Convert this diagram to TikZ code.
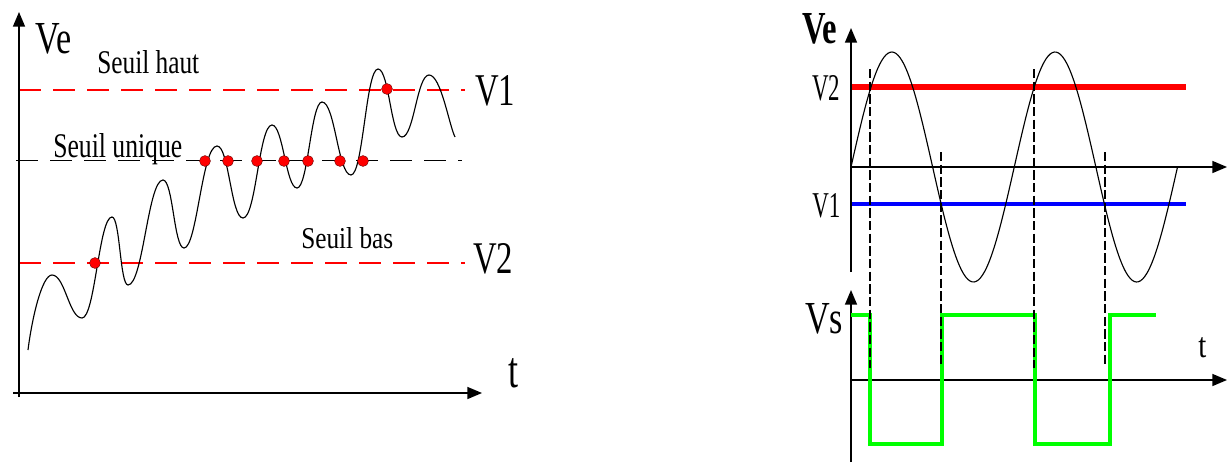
\documentclass[tikz,border=0pt]{standalone}
\usepackage{fontspec}
\setmainfont{Liberation Serif}
\usepackage{graphicx}
\usetikzlibrary{arrows.meta}
\newlength\mypx
\setlength\mypx{0.75pt}
\newcommand\fitlbl[3]{\resizebox{#1\mypx}{#2\mypx}{#3}}
\begin{document}
\begin{tikzpicture}[x=0.75pt,y=-0.75pt,
  axis/.style={line width=1.1pt,-{Triangle[length=11pt,width=9pt]}},
  reddash/.style={red,line width=1pt,dash pattern=on 16.5pt off 9pt},
  blkdash/.style={black,line width=0.9pt,dash pattern=on 16.5pt off 9pt},
  curve/.style={black,line width=0.85pt},
  dot/.style={circle,fill=red,draw=black!60!red,line width=0.3pt,inner sep=0pt,minimum size=8.2pt},
  lbl/.style={inner sep=0pt,anchor=base west},
  vdash/.style={black,line width=0.8pt,dash pattern=on 7pt off 2.5pt},
  thickred/.style={red,line width=4.5pt},
  thickblue/.style={blue,line width=3.6pt},
  sq/.style={green,line width=3.6pt,line join=miter}]
\useasboundingbox (0,0) rectangle (1230,464);

% ---------------- left diagram ----------------
\coordinate (Ly0) at (19,397);
\coordinate (Ly1) at (19,12);
\coordinate (Lx0) at (13,393);
\coordinate (Lx1) at (482,393);
\coordinate (V1a) at (19,90);
\coordinate (V1b) at (465,90);
\coordinate (V2a) at (19,263);
\coordinate (V2b) at (465,263);
\coordinate (Ua) at (16,160.5);
\coordinate (Ub) at (462,160.5);

\draw[reddash] (V1a) -- (V1b);
\draw[reddash] (V2a) -- (V2b);
\draw[blkdash] (Ua) -- (Ub);
\draw[axis] (Ly0) -- (Ly1);
\draw[axis] (Lx0) -- (Lx1);

\draw[curve] (28,350) .. controls (32,318) and (42,275) .. (52,275)
  .. controls +(13,0) and +(-13,0) .. (82,318)
  .. controls +(13,0) and +(-13,0) .. (112,217)
  .. controls +(8,0) and +(-8,0) .. (128,285)
  .. controls +(15,0) and +(-15,0) .. (163,180)
  .. controls +(10,0) and +(-10,0) .. (184,248)
  .. controls +(13,0) and +(-15,0) .. (217,146)
  .. controls +(12,0) and +(-12,0) .. (243,218)
  .. controls +(13,0) and +(-13,0) .. (272,125)
  .. controls +(11,0) and +(-11,0) .. (297,188)
  .. controls +(11,0) and +(-11,0) .. (322,102)
  .. controls +(13,0) and +(-13,0) .. (351,175)
  .. controls +(12,0) and +(-12,0) .. (378,69)
  .. controls +(11,0) and +(-11,0) .. (402,137)
  .. controls +(12,0) and +(-12,0) .. (429,75)
  .. controls +(12,0) and (449,125) .. (455,137);

\node[dot] (d1) at (95,263) {};
\node[dot] (d2) at (205,161) {};
\node[dot] (d3) at (228,161) {};
\node[dot] (d4) at (257,161) {};
\node[dot] (d5) at (284,161) {};
\node[dot] (d6) at (308,161) {};
\node[dot] (d7) at (340,161) {};
\node[dot] (d8) at (363,161) {};
\node[dot] (d9) at (387,89) {};

\node[lbl] (lVe) at (35,53) {\fitlbl{36}{30}{Ve}};
\node[lbl] (lhaut) at (97,73) {\fitlbl{102}{23}{Seuil haut}};
\node[lbl] (luniq) at (53,157) {\fitlbl{129}{24}{Seuil unique}};
\node[lbl] (lbas) at (301,248) {\fitlbl{92}{21}{Seuil bas}};
\node[lbl] (lV1) at (475,105) {\fitlbl{40}{30}{V1}};
\node[lbl] (lV2) at (473,273) {\fitlbl{40}{30}{V2}};
\node[lbl] (lt) at (508,387) {\fitlbl{10}{29}{t}};

% ---------------- right diagram ----------------
\coordinate (Ry0) at (851,272);
\coordinate (Ry1) at (851,28);
\coordinate (Rx0) at (851,167);
\coordinate (Rx1) at (1227,167);
\coordinate (Sy0) at (851,462);
\coordinate (Sy1) at (851,290);
\coordinate (Sx0) at (851,380);
\coordinate (Sx1) at (1227,380);
\coordinate (RV2a) at (851,87);
\coordinate (RV2b) at (1186,87);
\coordinate (RV1a) at (851,204);
\coordinate (RV1b) at (1186,204);

\draw[thickred] (RV2a) -- (RV2b);
\draw[thickblue] (RV1a) -- (RV1b);
\draw[axis] (Ry0) -- (Ry1);
\draw[axis] (Rx0) -- (Rx1);
\draw[axis] (Sy0) -- (Sy1);
\draw[axis] (Sx0) -- (Sx1);

\draw[curve] plot[domain=0:326.5,samples=160,smooth] ({851+\x},{167-115*sin(2.20521*\x)});

\draw[sq] (851,315) -- (870,315) -- (870,444) -- (942,444) -- (942,315)
  -- (1035,315) -- (1035,444) -- (1110,444) -- (1110,315) -- (1156,315);

\coordinate (a1) at (870,69);  \coordinate (b1) at (870,368);
\coordinate (a2) at (941,152); \coordinate (b2) at (941,367);
\coordinate (a3) at (1034,69); \coordinate (b3) at (1034,368);
\coordinate (a4) at (1105,152);\coordinate (b4) at (1105,367);
\draw[vdash] (a1) -- (b1);
\draw[vdash] (a2) -- (b2);
\draw[vdash] (a3) -- (b3);
\draw[vdash] (a4) -- (b4);

\node[lbl] (rVe) at (802,43) {\fitlbl{35}{30}{\textbf{Ve}}};
\node[lbl] (rV2) at (812,100) {\fitlbl{28}{25}{V2}};
\node[lbl] (rV1) at (812,217) {\fitlbl{28}{24}{V1}};
\node[lbl] (rVs) at (805,333) {\fitlbl{38}{30}{Vs}};
\node[lbl] (rt) at (1198,357) {\fitlbl{8}{20}{t}};
\end{tikzpicture}
\end{document}
